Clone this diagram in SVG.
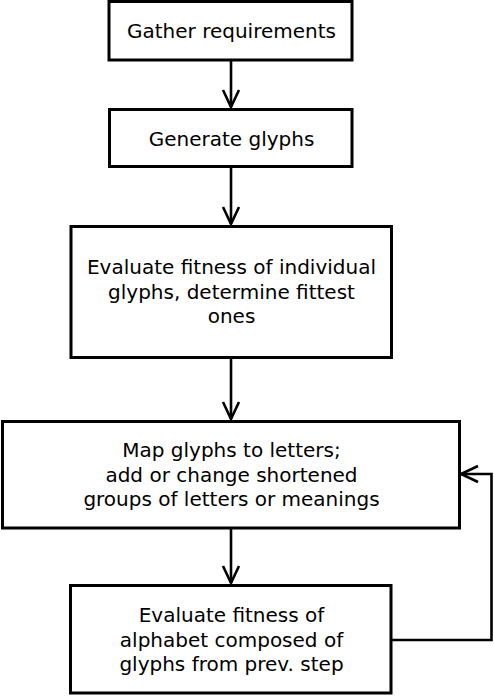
<svg xmlns="http://www.w3.org/2000/svg" width="494" height="696" viewBox="0 0 494 696">
<style>
.box{fill:#fff;stroke:#000;stroke-width:3}
.lbl{font-family:"DejaVu Sans",sans-serif;font-size:20px;fill:#000;text-anchor:middle}
.con{fill:none;stroke:#000;stroke-width:2.6;marker-end:url(#ah)}
</style>
<defs>
<marker id="ah" markerUnits="userSpaceOnUse" viewBox="0 0 20 20" refX="18" refY="10" markerWidth="20" markerHeight="20" orient="auto">
<path d="M1,2 L18,10 L1,18" fill="none" stroke="#000" stroke-width="2.6"/>
</marker>
</defs>
<rect width="494" height="696" fill="#fff"/>
<g id="connectors">
<path class="con" d="M231,61 V107"/>
<path class="con" d="M231,168 V224"/>
<path class="con" d="M231,359 V419"/>
<path class="con" d="M231,529 V583"/>
<path class="con" d="M392,640 H491.5 V474 H461"/>
</g>
<g id="n1">
<rect class="box" x="109" y="1.5" width="243" height="58.5"/>
<text class="lbl" x="231.5" y="38">Gather requirements</text>
</g>
<g id="n2">
<rect class="box" x="109.5" y="109.5" width="242.5" height="57"/>
<text class="lbl" x="231.5" y="146">Generate glyphs</text>
</g>
<g id="n3">
<rect class="box" x="71" y="226.5" width="320.5" height="131"/>
<text class="lbl" x="231.5" y="274">Evaluate fitness of individual</text>
<text class="lbl" x="231.5" y="299">glyphs, determine fittest</text>
<text class="lbl" x="231.5" y="323">ones</text>
</g>
<g id="n4">
<rect class="box" x="2.5" y="421.5" width="457" height="106.5"/>
<text class="lbl" x="231.5" y="457">Map glyphs to letters;</text>
<text class="lbl" x="231.5" y="482">add or change shortened</text>
<text class="lbl" x="231.5" y="506">groups of letters or meanings</text>
</g>
<g id="n5">
<rect class="box" x="70.5" y="585.5" width="320.5" height="107.5"/>
<text class="lbl" x="231.5" y="622">Evaluate fitness of</text>
<text class="lbl" x="231.5" y="647">alphabet composed of</text>
<text class="lbl" x="231.5" y="671">glyphs from prev. step</text>
</g>
</svg>
